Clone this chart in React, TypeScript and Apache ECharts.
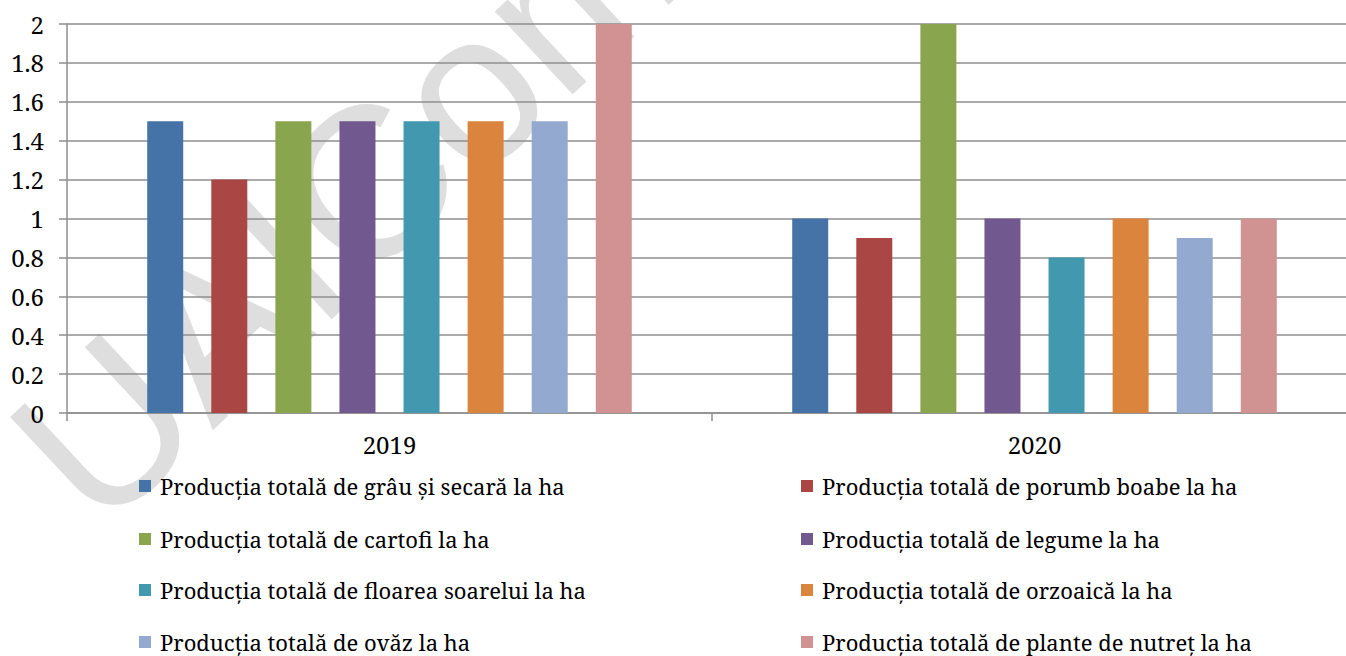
import React, { useEffect, useRef } from "react";
import * as echarts from "echarts";

const categories = ["2019", "2020"];
const seriesNames = [
  "Producția totală de grâu și secară la ha",
  "Producția totală de porumb boabe la ha",
  "Producția totală de cartofi la ha",
  "Producția totală de legume la ha",
  "Producția totală de floarea soarelui la ha",
  "Producția totală de orzoaică la ha",
  "Producția totală de ovăz la ha",
  "Producția totală de plante de nutreț la ha",
];
const graulSecara = [1.5, 1.0];
const porumb = [1.2, 0.9];
const cartofi = [1.5, 2.0];
const legume = [1.5, 1.0];
const floareaSoarelui = [1.5, 0.8];
const orzoaica = [1.5, 1.0];
const ovaz = [1.5, 0.9];
const planteNutret = [2.0, 1.0];
const seriesValues = [graulSecara, porumb, cartofi, legume, floareaSoarelui, orzoaica, ovaz, planteNutret];
const colors = ["#4572A7", "#AA4643", "#89A54E", "#71588F", "#4198AF", "#DB843D", "#93A9CF", "#D19392"];
const watermarkText = "UAICom";

const FONT = "'Noto Serif', 'DejaVu Serif', serif";
const GRID_COLOR = "#8e8e8e";
const AXIS_FS = 24;
const LEGEND_FS = 22;

// legend layout: two columns, four rows
const legendCols = [139, 801];
const legendRowTops = [471, 524, 575, 627];

export default function App() {
  const ref = useRef<HTMLDivElement>(null);
  useEffect(() => {
    if (!ref.current) return;
    const chart = echarts.init(ref.current, undefined, { renderer: "svg" });
    const legends = seriesNames.map((name, i) => ({
      left: legendCols[i % 2],
      top: legendRowTops[Math.floor(i / 2)],
      orient: "horizontal" as const,
      icon: "rect",
      itemWidth: 12,
      itemHeight: 12,
      selectedMode: false,
      padding: 0,
      data: [name],
      textStyle: {
        fontFamily: FONT,
        fontSize: LEGEND_FS,
        color: "#000",
        lineHeight: 30,
        padding: [0, 0, 0, 4],
      },
    }));
    chart.setOption({
      animation: false,
      textStyle: { fontFamily: FONT },
      graphic: [
        {
          type: "text",
          x: 345,
          y: 205,
          rotation: (43 * Math.PI) / 180,
          z: -10,
          silent: true,
          style: {
            text: watermarkText,
            fill: "#dedede",
            fontSize: 215,
            fontFamily: "Liberation Sans",
            textAlign: "center",
            textVerticalAlign: "middle",
          },
        },
      ],
      grid: { left: 67, right: 0, top: 24, bottom: 243, containLabel: false },
      legend: legends,
      xAxis: {
        type: "category",
        data: categories,
        axisLine: { show: true, lineStyle: { color: GRID_COLOR, width: 1.5 } },
        axisTick: { show: true, alignWithLabel: false, length: 8, lineStyle: { color: GRID_COLOR, width: 1.5 } },
        axisLabel: { fontFamily: FONT, fontSize: AXIS_FS, color: "#000", margin: 19 },
        splitLine: { show: false },
      },
      yAxis: {
        type: "value",
        min: 0,
        max: 2,
        interval: 0.2,
        axisLine: { show: true, lineStyle: { color: GRID_COLOR, width: 1.5 } },
        axisTick: { show: true, length: 8, lineStyle: { color: GRID_COLOR, width: 1.5 } },
        axisLabel: { fontFamily: FONT, fontSize: AXIS_FS, color: "#000", margin: 23 },
        splitLine: { show: true, lineStyle: { color: GRID_COLOR, width: 1.5 } },
      },
      series: seriesNames.map((name, i) => ({
        name,
        type: "bar",
        data: seriesValues[i],
        barWidth: 36,
        barGap: "78%",
        itemStyle: { color: colors[i] },
      })),
    });
    return () => chart.dispose();
  }, []);
  return (
    <div
      ref={ref}
      style={{ position: "fixed", left: 0, top: 0, width: 1357, height: 656, background: "#fff" }}
    />
  );
}
